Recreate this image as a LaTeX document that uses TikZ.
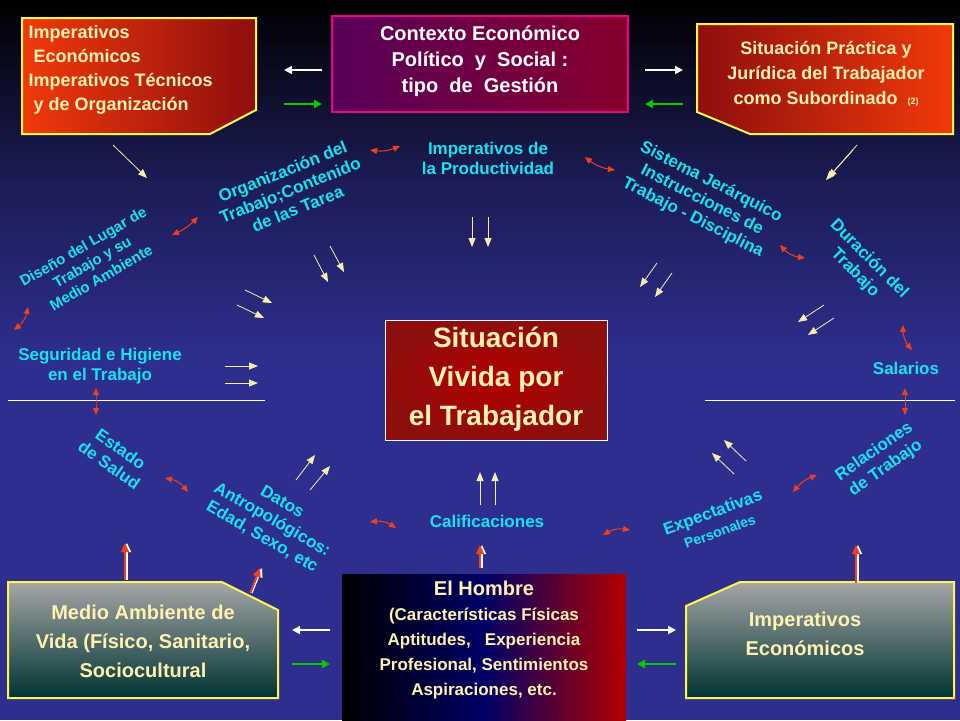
\documentclass[tikz,border=0pt]{standalone}
\usepackage{fontspec}
\setmainfont{Liberation Sans}
\usetikzlibrary{arrows.meta,shadings}

\definecolor{labelcyan}{HTML}{17E3F0}
\definecolor{paleyellow}{HTML}{F4EFAE}
\definecolor{boxorange}{HTML}{F03A0A}
\definecolor{boxred}{HTML}{8E0E0E}
\definecolor{arrowred}{HTML}{F0401A}
\definecolor{bgblue}{HTML}{2E2E8E}
\definecolor{creamtext}{HTML}{FFF2B0}

\tikzset{
    cyanlabel/.style={text=labelcyan, font=\fontsize{17}{20}\selectfont\bfseries, align=center, inner sep=1pt},
    thinarrow/.style={-{Triangle[length=9pt,width=7pt]}, paleyellow, line width=0.8pt},
    swaparrow/.style={-{Triangle[length=8pt,width=8pt]}, white, line width=1.6pt},
    greenarrow/.style={-{Triangle[length=8pt,width=8pt]}, green!80!black, line width=2.4pt},
    linkarrow/.style={{Triangle[length=7pt,width=6pt]}-{Triangle[length=7pt,width=6pt]}, arrowred, line width=1pt},
    riserarrow/.style={-{Triangle[length=9pt,width=8pt]}, arrowred, line width=1.6pt},
    boxtext/.style={font=\fontsize{17}{21}\selectfont\bfseries, align=center}
}

\begin{document}
\begin{tikzpicture}[x=1pt,y=-1pt]

% background
\shade[top color=black, bottom color=bgblue, middle color=bgblue!60!black] (0,0) rectangle (960,360);
\fill[bgblue] (0,360) rectangle (960,720);
\useasboundingbox (0,0) rectangle (960,720);

% boxes
\shade[left color=boxorange, right color=boxred, draw=yellow!70, line width=2pt]
    (22,18) -- (256,18) -- (256,110) -- (210,134) -- (22,134) -- cycle;
\node[boxtext, text=creamtext, align=left, anchor=north west, font=\fontsize{18}{24}\selectfont\bfseries] (impTec) at (25,22)
    {Imperativos\\ \ Económicos\\Imperativos Técnicos\\ \ y de Organización};
\shade[left color=violet!70!black, right color=purple!70!black, draw=magenta, line width=2pt]
    (332,16) rectangle (628,112);
\node[boxtext, text=white, font=\fontsize{20}{26}\selectfont\bfseries] (contexto) at (480,61)
    {Contexto Económico\\Político \ y \ Social :\\tipo \ de \ Gestión};
\shade[left color=boxred, right color=boxorange, draw=yellow!70, line width=2pt]
    (697,24) -- (953,24) -- (953,134) -- (750,134) -- (697,112) -- cycle;
\node[boxtext, text=creamtext, font=\fontsize{18}{25}\selectfont\bfseries] (sitPract) at (826,74)
    {Situación Práctica y\\Jurídica del Trabajador\\como Subordinado \ {\small(2)}};
\shade[inner color=red!70!black, outer color=boxred, draw=white!70, line width=0.6pt]
    (385,320) rectangle (607,440);
\node[boxtext, text=creamtext, font=\fontsize{28}{39}\selectfont\bfseries] (vivida) at (496,379)
    {Situación\\Vivida por\\el Trabajador};
\shade[top color=gray!70, bottom color=teal!40!black, draw=yellow!70, line width=2pt]
    (8,582) -- (222,582) -- (278,610) -- (278,698) -- (8,698) -- cycle;
\node[boxtext, text=creamtext, font=\fontsize{20}{29}\selectfont\bfseries] (medioVida) at (143,641)
    {Medio Ambiente de\\Vida (Físico, Sanitario,\\Sociocultural};
\shade[left color=black, right color=red!70!black, middle color=blue!40!black] (342,574) rectangle (626,720);
\node[boxtext, text=creamtext, font=\fontsize{17}{25}\selectfont\bfseries] (hombre) at (484,640)
    {{\fontsize{20}{25}\selectfont El Hombre}\\(Características Físicas\\Aptitudes, \ \ Experiencia\\Profesional, Sentimientos\\Aspiraciones, etc.};
\shade[top color=gray!70, bottom color=teal!40!black, draw=yellow!70, line width=2pt]
    (740,582) -- (954,582) -- (954,698) -- (686,698) -- (686,606) -- cycle;
\node[boxtext, text=creamtext, font=\fontsize{20}{29}\selectfont\bfseries] (impEco) at (805,634)
    {Imperativos\\Económicos};

% cyan labels
\node[cyanlabel] (productividad) at (488,158) {Imperativos de\\la Productividad};
\node[cyanlabel, rotate=22] (organizacion) at (290,190) {Organización del\\Trabajo;Contenido\\de las Tarea};
\node[cyanlabel, rotate=30, font=\fontsize{15}{18}\selectfont\bfseries] (diseno) at (92,262) {Diseño del Lugar de\\Trabajo y su\\Medio Ambiente};
\node[cyanlabel] (seguridad) at (100,366) {Seguridad e Higiene\\en el Trabajo};
\node[cyanlabel, rotate=-27] (sistema) at (702,200) {Sistema Jerárquico\\Instrucciones de\\Trabajo - Disciplina};
\node[cyanlabel, rotate=-45] (duracion) at (862,266) {Duración del\\Trabajo};
\node[cyanlabel] (salarios) at (906,368) {Salarios};
\node[cyanlabel, rotate=-35] (salud) at (115,457) {Estado\\de Salud};
\node[cyanlabel, rotate=-30] (datos) at (272,520) {Datos\\Antropológicos:\\Edad, Sexo, etc};
\node[cyanlabel] (calif) at (487,521) {Calificaciones};
\node[cyanlabel, rotate=20] (expect) at (716,521) {Expectativas\\{\fontsize{14}{16}\selectfont Personales}};
\node[cyanlabel, rotate=35] (relaciones) at (880,460) {Relaciones\\de Trabajo};

% divider lines
\draw[white, line width=0.6pt] (8,400) -- (265,400);
\draw[white, line width=0.6pt] (705,400) -- (955,400);

% box exchanges
\coordinate (cL1) at (322,70); \coordinate (cL2) at (284,70);
\coordinate (cL3) at (284,104); \coordinate (cL4) at (322,104);
\draw[swaparrow] (cL1) -- (cL2);
\draw[greenarrow] (cL3) -- (cL4);
\coordinate (cR1) at (645,70); \coordinate (cR2) at (683,70);
\coordinate (cR3) at (683,104); \coordinate (cR4) at (645,104);
\draw[swaparrow] (cR1) -- (cR2);
\draw[greenarrow] (cR3) -- (cR4);
\coordinate (hL1) at (330,630); \coordinate (hL2) at (292,630);
\coordinate (hL3) at (292,664); \coordinate (hL4) at (330,664);
\draw[swaparrow] (hL1) -- (hL2);
\draw[greenarrow] (hL3) -- (hL4);
\coordinate (hR1) at (637,630); \coordinate (hR2) at (676,630);
\coordinate (hR3) at (676,664); \coordinate (hR4) at (637,664);
\draw[swaparrow] (hR1) -- (hR2);
\draw[greenarrow] (hR3) -- (hR4);

% pale arrows towards the centre
\foreach \xa/\ya/\xb/\yb in {113/145/147/178, 314/255/328/282, 330/246/344/272,
    245/290/272/303, 237/305/264/318, 472/217/472/247, 488/217/488/247,
    657/263/640/287, 672/273/655/297, 857/145/828/178, 853/150/826/180,
    824/305/798/322, 834/318/808/335, 225/366/258/366, 225/383/258/383,
    296/480/315/455, 310/490/330/466, 480/505/480/472, 495/505/495/472,
    746/461/724/440, 734/474/712/453}
    \draw[thinarrow] (\xa,\ya) -- (\xb,\yb);

% links between the factors
\foreach \xa/\ya/\xb/\yb/\bend in {14/330/28/307/-20, 172/235/198/217/-10,
    370/150/400/146/-15, 585/157/615/170/-15, 780/245/805/258/-20,
    903/325/912/350/-20, 905/388/905/415/0, 96/388/96/415/0,
    165/478/188/492/20, 370/522/396/528/20, 603/535/630/530/20,
    793/492/817/475/15}
    \draw[linkarrow] (\xa,\ya) to[bend left=\bend] (\xb,\yb);

% risers from the lower boxes
\foreach \xa/\ya/\xb/\yb in {125/580/125/543, 250/593/260/568, 480/568/480/545, 856/583/856/545}{
    \draw[-{Triangle[length=9pt,width=8pt]}, white, line width=1.2pt] (\xa+2,\ya) -- (\xb+2,\yb);
    \draw[riserarrow] (\xa,\ya) -- (\xb,\yb);
}

\end{tikzpicture}
\end{document}
